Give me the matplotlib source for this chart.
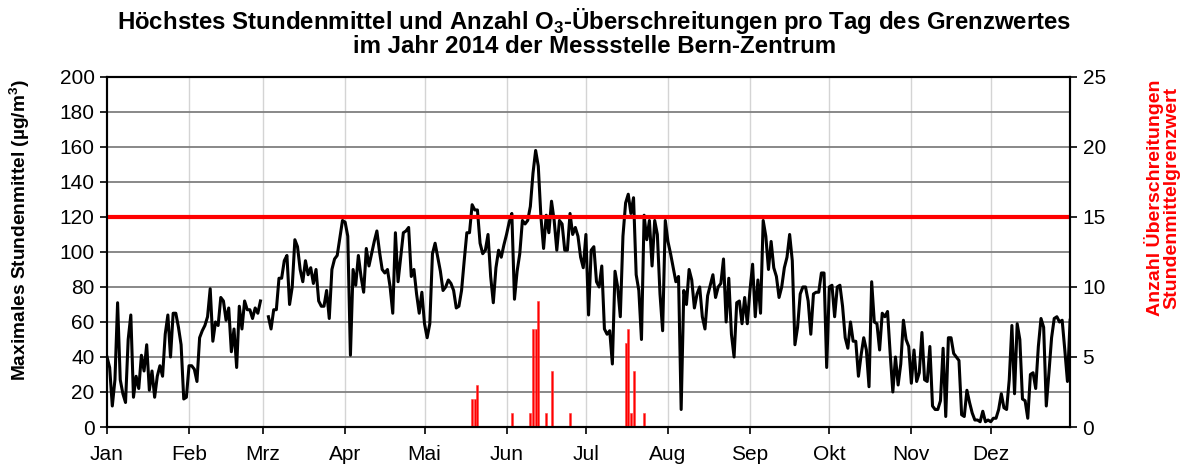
import numpy as np
import matplotlib
matplotlib.use("Agg")
import matplotlib.pyplot as plt

plt.rcParams['font.family'] = ['Liberation Sans', 'DejaVu Sans']

months = ["Jan", "Feb", "Mrz", "Apr", "Mai", "Jun", "Jul", "Aug", "Sep", "Okt", "Nov", "Dez"]
month_len = [31, 28, 31, 30, 31, 30, 31, 31, 30, 31, 30, 31]

# max. Stundenmittel pro Tag (ug/m3), Monat fuer Monat
nan = np.nan
jan = [40, 34, 12, 27, 71, 27, 19, 14, 50, 64, 17, 29, 22, 41, 32, 47, 21, 32, 17, 29,
       35, 29, 53, 64, 40, 65, 65, 57, 47, 16, 17]
feb = [35, 35, 33, 26, 51, 55, 58, 63, 79, 49, 60, 58, 74, 72, 61, 68, 43, 56, 34, 69,
       56, 72, 67, 67, 62, 68, 65, 72]
mrz = [nan, nan, 63, 56, 67, 67, 85, 85, 95, 98, 70, 80, 107, 103, 90, 83, 95, 87, 91, 82,
       90, 72, 69, 69, 78, 62, 90, 96, 98, 108, 118]
apr = [117, 109, 41, 90, 81, 98, 86, 77, 102, 92, 99, 106, 112, 100, 90, 88, 90, 80, 65, 111,
       83, 97, 111, 112, 114, 86, 90, 76, 65, 77]
mai = [59, 51, 59, 99, 105, 97, 89, 78, 80, 84, 82, 78, 68, 69, 78, 95, 111, 111, 127, 124,
       124, 105, 99, 101, 110, 86, 71, 91, 101, 97, 104]
jun = [110, 117, 122, 73, 89, 99, 118, 116, 118, 126, 145, 158, 149, 120, 102, 121, 111, 129, 118, 101,
       118, 116, 101, 101, 122, 110, 114, 109, 97, 91]
jul = [110, 64, 101, 103, 83, 80, 92, 56, 53, 55, 36, 89, 80, 63, 109, 128, 133, 122, 131, 87,
       78, 50, 121, 107, 118, 92, 118, 110, 76, 55, 118]
aug = [106, 99, 91, 83, 86, 10, 78, 70, 90, 84, 68, 76, 80, 63, 56, 75, 81, 87, 74, 80,
       82, 96, 60, 85, 53, 40, 71, 72, 59, 74, 59]
sep = [78, 93, 63, 84, 65, 118, 109, 90, 106, 91, 86, 74, 80, 91, 97, 110, 95, 47, 57, 76,
       80, 80, 72, 53, 76, 77, 77, 88, 88, 34]
okt = [80, 81, 63, 80, 81, 69, 51, 45, 60, 49, 49, 29, 41, 51, 44, 23, 83, 60, 59, 44,
       65, 63, 66, 42, 20, 40, 24, 36, 61, 50, 46]
nov = [25, 44, 26, 31, 54, 27, 26, 46, 12, 10, 10, 15, 45, 6, 51, 51, 42, 40, 38, 7,
       6, 21, 14, 8, 4, 4, 3, 9, 3, 4]
dez = [3, 5, 5, 10, 19, 11, 10, 27, 58, 19, 59, 50, 16, 15, 5, 30, 31, 22, 46, 62,
       57, 12, 31, 51, 62, 63, 60, 61, 44, 26, 61]

# Anzahl Ueberschreitungen (Tag im Jahr, 0 = 1. Jan)
exc_days = [138, 139, 140, 153, 160, 161, 162, 163, 166, 168, 175, 196, 197, 198, 199, 203]
exc_count = [2, 2, 3, 1, 1, 7, 7, 9, 1, 4, 1, 6, 7, 1, 4, 1]

grenzwert = 120

daily_max = np.array(jan + feb + mrz + apr + mai + jun + jul + aug + sep + okt + nov + dez, dtype=float)
days = np.arange(len(daily_max))
month_start = np.concatenate([[0], np.cumsum(month_len)[:-1]])

fig = plt.figure(figsize=(11.89, 4.68), dpi=100)
ax = fig.add_axes([0.09, 0.0876, 0.81, 0.748])
ax2 = ax.twinx()

ax.set_xlim(0, 364)
ax.set_ylim(0, 200)
ax2.set_ylim(0, 25)

ax.set_yticks(np.arange(0, 201, 20))
ax2.set_yticks(np.arange(0, 26, 5))
ax.set_xticks(month_start)
ax.set_xticklabels(months)

for m in month_start[1:]:
    ax.axvline(m, color="#d4d4d4", lw=1.0, zorder=0)
ax.yaxis.grid(True, color="#7f7f7f", lw=1.3, zorder=0)
ax.set_axisbelow(True)

ax.plot(days, daily_max, color="black", lw=2.2, zorder=3)
ax.axhline(grenzwert, color="#ff0000", lw=3.0, zorder=4)

ax2.bar(exc_days, exc_count, width=0.75, color="#ff0000", edgecolor="#ff4040", lw=0.4, align="center")

for a in (ax, ax2):
    a.tick_params(axis="both", labelsize=15, length=5, width=1.2, direction="out", pad=4)
    for s in a.spines.values():
        s.set_color("black")
        s.set_linewidth(1.5)
ax.tick_params(axis="x", pad=8)

fig.text(20 / 1189, 1 - 230 / 468, "Maximales Stundenmittel (µg/m$^\\mathregular{3}$)",
         rotation=90, ha="center", va="center", fontsize=13.8, fontweight="bold")
fig.text(1162 / 1189, 1 - 198 / 468, "Anzahl Überschreitungen\nStundenmittelgrenzwert",
         rotation=90, ha="center", va="center", fontsize=14, fontweight="bold",
         color="#ff0000", multialignment="center", linespacing=0.95)
fig.text(0.5, 1 - 32 / 468,
         "Höchstes Stundenmittel und Anzahl O$_\\mathregular{3}$-Überschreitungen pro Tag des Grenzwertes\n"
         "im Jahr 2014 der Messstelle Bern-Zentrum",
         ha="center", va="center", fontsize=17.3, fontweight="bold", linespacing=0.95)

fig.savefig("out.png", dpi=100)
